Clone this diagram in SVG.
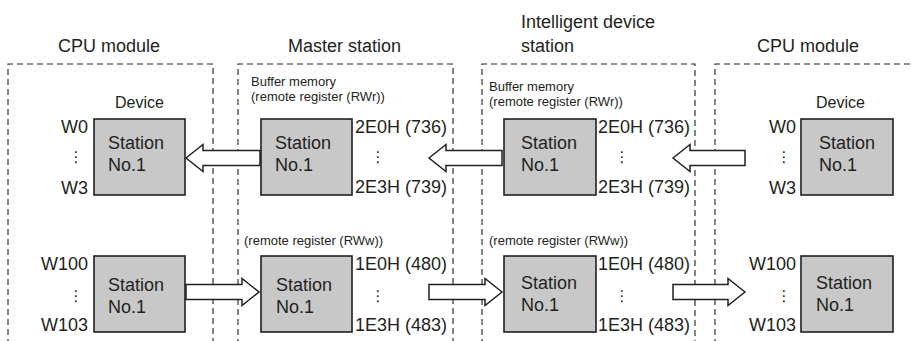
<svg xmlns="http://www.w3.org/2000/svg" width="911" height="341" viewBox="0 0 911 341">
  <style>
    text { font-family: "Liberation Sans", Arial, sans-serif; fill: #231f20; }
    .title { font-size: 18px; }
    .lbl { font-size: 18px; }
    .dev { font-size: 16px; }
    .small { font-size: 13px; }
    .st { font-size: 18px; }
    .dots { font-family: "DejaVu Sans", sans-serif; font-size: 15px; text-anchor: middle; }
    .frame { fill: none; stroke: #231f20; stroke-width: 1.1; stroke-dasharray: 6 4; }
    .box { fill: #c8c8c8; stroke: #231f20; stroke-width: 1.6; }
    .arrow { fill: #ffffff; stroke: #231f20; stroke-width: 1.5; stroke-linejoin: miter; }
  </style>

  <!-- Titles -->
  <text class="title" x="58" y="52">CPU module</text>
  <text class="title" x="288" y="52">Master station</text>
  <text class="title" x="521" y="28">Intelligent device</text>
  <text class="title" x="521" y="52">station</text>
  <text class="title" x="757" y="52">CPU module</text>

  <!-- Dashed frames -->
  <g id="frames">
    <path class="frame" d="M8,345 V64 H213 V345"/>
    <path class="frame" d="M238,345 V64 H453 V345"/>
    <path class="frame" d="M482,345 V64 H695 V345"/>
    <path class="frame" d="M715,345 V64 H915"/>
  </g>

  <!-- Connectors -->
  <g id="connectors">
    <polygon class="arrow" points="186,158 203,144.5 203,150.5 260,150.5 260,165.5 203,165.5 203,171.5"/>
    <polygon class="arrow" points="429,158 446,144.5 446,150.5 502,150.5 502,165.5 446,165.5 446,171.5"/>
    <polygon class="arrow" points="673,158 690,144.5 690,150.5 745,150.5 745,165.5 690,165.5 690,171.5"/>
    <polygon class="arrow" points="259,292 242,278.5 242,284.5 186,284.5 186,299.5 242,299.5 242,305.5"/>
    <polygon class="arrow" points="502,292 485,278.5 485,284.5 429,284.5 429,299.5 485,299.5 485,305.5"/>
    <polygon class="arrow" points="745,292 728,278.5 728,284.5 673,284.5 673,299.5 728,299.5 728,305.5"/>
  </g>

  <!-- Left CPU module -->
  <g id="cpu-left">
    <text class="dev" x="115" y="108">Device</text>
    <text class="lbl" x="88" y="133" text-anchor="end">W0</text>
    <text class="dots" x="76" y="162">⋮</text>
    <text class="lbl" x="88" y="194" text-anchor="end">W3</text>
    <text class="lbl" x="88" y="270" text-anchor="end">W100</text>
    <text class="dots" x="76" y="301">⋮</text>
    <text class="lbl" x="88" y="331" text-anchor="end">W103</text>
  </g>
  <g id="cpu-left-rwr">
    <rect class="box" x="94" y="119" width="91" height="76"/>
    <text class="st" x="108" y="149">Station</text>
    <text class="st" x="108" y="171">No.1</text>
  </g>
  <g id="cpu-left-rww">
    <rect class="box" x="94" y="256" width="91" height="76"/>
    <text class="st" x="108" y="291">Station</text>
    <text class="st" x="108" y="313">No.1</text>
  </g>

  <!-- Master station -->
  <g id="master">
    <text class="small" x="251" y="86">Buffer memory</text>
    <text class="small" x="251" y="101">(remote register (RWr))</text>
    <text class="lbl" x="355" y="133">2E0H (736)</text>
    <text class="dots" x="378" y="162">⋮</text>
    <text class="lbl" x="355" y="193">2E3H (739)</text>
    <text class="small" x="244" y="245">(remote register (RWw))</text>
    <text class="lbl" x="355" y="270">1E0H (480)</text>
    <text class="dots" x="378" y="301">⋮</text>
    <text class="lbl" x="355" y="331">1E3H (483)</text>
  </g>
  <g id="master-rwr">
    <rect class="box" x="261" y="119" width="91" height="76"/>
    <text class="st" x="275" y="149">Station</text>
    <text class="st" x="275" y="171">No.1</text>
  </g>
  <g id="master-rww">
    <rect class="box" x="261" y="256" width="91" height="76"/>
    <text class="st" x="276" y="291">Station</text>
    <text class="st" x="276" y="313">No.1</text>
  </g>

  <!-- Intelligent device station -->
  <g id="intelligent">
    <text class="small" x="489" y="91">Buffer memory</text>
    <text class="small" x="489" y="106">(remote register (RWr))</text>
    <text class="lbl" x="598" y="133">2E0H (736)</text>
    <text class="dots" x="622" y="162">⋮</text>
    <text class="lbl" x="598" y="193">2E3H (739)</text>
    <text class="small" x="489" y="245">(remote register (RWw))</text>
    <text class="lbl" x="598" y="270">1E0H (480)</text>
    <text class="dots" x="622" y="301">⋮</text>
    <text class="lbl" x="598" y="331">1E3H (483)</text>
  </g>
  <g id="intelligent-rwr">
    <rect class="box" x="504" y="119" width="92" height="76"/>
    <text class="st" x="521" y="149">Station</text>
    <text class="st" x="521" y="171">No.1</text>
  </g>
  <g id="intelligent-rww">
    <rect class="box" x="504" y="256" width="92" height="76"/>
    <text class="st" x="521" y="289">Station</text>
    <text class="st" x="521" y="311">No.1</text>
  </g>

  <!-- Right CPU module -->
  <g id="cpu-right">
    <text class="dev" x="816" y="108">Device</text>
    <text class="lbl" x="796" y="133" text-anchor="end">W0</text>
    <text class="dots" x="784" y="162">⋮</text>
    <text class="lbl" x="796" y="194" text-anchor="end">W3</text>
    <text class="lbl" x="796" y="270" text-anchor="end">W100</text>
    <text class="dots" x="784" y="301">⋮</text>
    <text class="lbl" x="796" y="331" text-anchor="end">W103</text>
  </g>
  <g id="cpu-right-rwr">
    <rect class="box" x="801" y="119" width="92" height="76"/>
    <text class="st" x="819" y="149">Station</text>
    <text class="st" x="819" y="171">No.1</text>
  </g>
  <g id="cpu-right-rww">
    <rect class="box" x="801" y="256" width="92" height="76"/>
    <text class="st" x="816" y="289">Station</text>
    <text class="st" x="816" y="311">No.1</text>
  </g>
</svg>
